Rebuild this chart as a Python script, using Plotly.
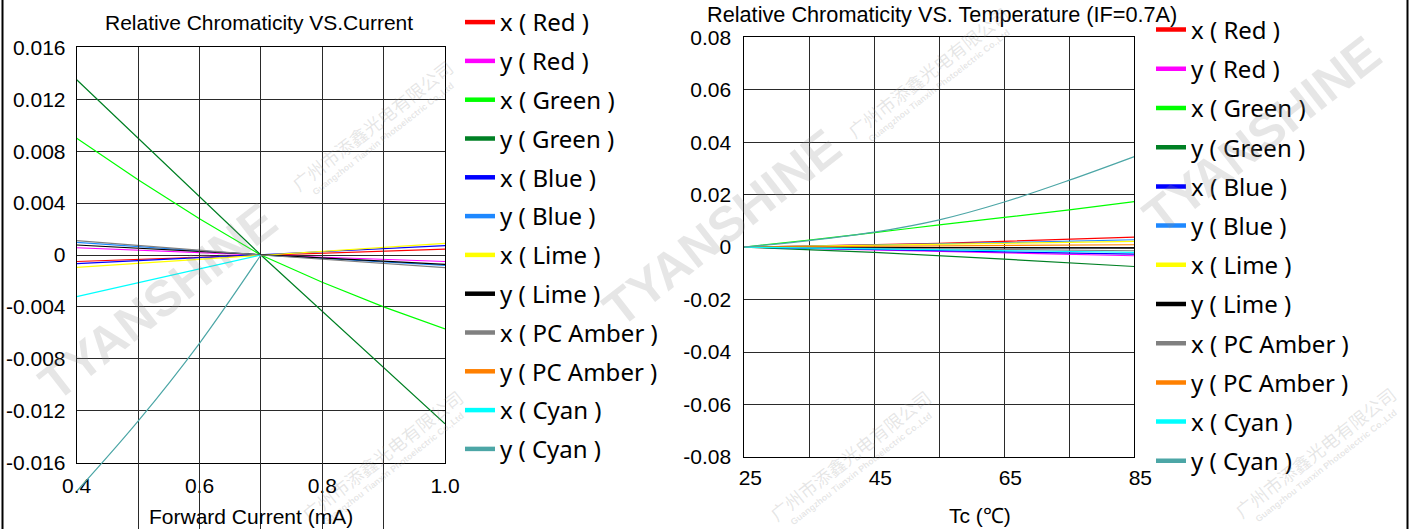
import plotly.graph_objects as go

W, H = 1415, 529

# ---------------- Relative chromaticity vs. forward current ----------------
cur_pts = [0.4, 0.7, 1.0]
cur_x_red = [-0.00050, 0.0, 0.00046]
cur_y_red = [0.00056, 0.0, -0.00050]
cur_green_pts = [0.4, 0.5, 0.6, 0.7, 0.8, 0.9, 1.0]
cur_x_green = [0.0090, 0.0058, 0.0028, 0.0, -0.0021, -0.0040, -0.0057]
cur_y_green = [0.0135, 0.0, -0.0130]
cur_x_blue = [-0.00067, 0.0, 0.00072]
cur_y_blue = [0.00098, 0.0, -0.00080]
cur_x_lime = [-0.00095, 0.0, 0.00090]
cur_y_lime = [0.00077, 0.0, -0.00072]
cur_x_amber = [0.00110, 0.0, -0.00098]
cur_amber_y_pts = [0.7]
cur_y_amber = [0.0]
cur_cyan_x_pts = [0.4, 0.7]
cur_x_cyan = [-0.0032, 0.0]
cur_cyan_y_pts = [0.4, 0.5, 0.6, 0.7]
cur_y_cyan = [-0.0182, -0.0128, -0.0068, 0.0]

cur_xticks = [0.4, 0.5, 0.6, 0.7, 0.8, 0.9, 1.0]
cur_xlabels = ["0.4", "", "0.6", "", "0.8", "", "1.0"]
cur_yticks = [-0.016, -0.012, -0.008, -0.004, 0.0, 0.004, 0.008, 0.012, 0.016]
cur_ylabels = ["-0.016", "-0.012", "-0.008", "-0.004", "0", "0.004", "0.008", "0.012", "0.016"]

# ---------------- Relative chromaticity vs. case temperature ----------------
tmp_pts = [25, 55, 85]
tmp_full = [25, 35, 45, 55, 65, 75, 85]
tmp_quarter = [25, 45, 65, 85]
tmp_x_red = [0.0, 0.0014, 0.0038]
tmp_y_red = [0.0, -0.0016, -0.0033]
tmp_x_green = [0.0, 0.0027, 0.0055, 0.0085, 0.0113, 0.0142, 0.0173]
tmp_y_green = [0.0, -0.0020, -0.0046, -0.0074]
tmp_x_blue = [0.0, -0.0013, -0.0027]
tmp_y_blue = [0.0, 0.0012, 0.0028]
tmp_x_lime = [0.0, 0.0010, 0.0022]
tmp_y_lime = [0.0, -0.0002, -0.0004]
tmp_x_amber = [0.0, -0.0007, -0.0014]
tmp_y_amber = [0.0, 0.0005, 0.0009]
tmp_x_cyan = [0.0, -0.0010, -0.0020]
tmp_y_cyan = [0.0, 0.0025, 0.0057, 0.0104, 0.0172, 0.0255, 0.0345]

tmp_xticks = [25, 35, 45, 55, 65, 75, 85]
tmp_xlabels = ["25", "", "45", "", "65", "", "85"]
tmp_yticks = [-0.08, -0.06, -0.04, -0.02, 0.0, 0.02, 0.04, 0.06, 0.08]
tmp_ylabels = ["-0.08", "-0.06", "-0.04", "-0.02", "0", "0.02", "0.04", "0.06", "0.08"]

series_names = ["x ( Red )", "y ( Red )", "x ( Green )", "y ( Green )",
                "x ( Blue )", "y ( Blue )", "x ( Lime )", "y ( Lime )",
                "x ( PC Amber )", "y ( PC Amber )", "x ( Cyan )", "y ( Cyan )"]
series_colors = ["#ff0000", "#ff00ff", "#00ff00", "#008024",
                 "#0000ff", "#1e88ff", "#ffff00", "#000000",
                 "#808080", "#ff8000", "#00ffff", "#4ca6a6"]

cur_series = [
    (cur_pts, cur_x_red), (cur_pts, cur_y_red),
    (cur_green_pts, cur_x_green), (cur_pts, cur_y_green),
    (cur_pts, cur_x_blue), (cur_pts, cur_y_blue),
    (cur_pts, cur_x_lime), (cur_pts, cur_y_lime),
    (cur_pts, cur_x_amber), (cur_amber_y_pts, cur_y_amber),
    (cur_cyan_x_pts, cur_x_cyan), (cur_cyan_y_pts, cur_y_cyan),
]
tmp_series = [
    (tmp_pts, tmp_x_red), (tmp_pts, tmp_y_red),
    (tmp_full, tmp_x_green), (tmp_quarter, tmp_y_green),
    (tmp_pts, tmp_x_blue), (tmp_pts, tmp_y_blue),
    (tmp_pts, tmp_x_lime), (tmp_pts, tmp_y_lime),
    (tmp_pts, tmp_x_amber), (tmp_pts, tmp_y_amber),
    (tmp_pts, tmp_x_cyan), (tmp_full, tmp_y_cyan),
]


def px_x(v):
    return v / W


def px_y(v):
    return 1 - v / H


# plot areas in pixels
L_box = (76.7, 445.0, 47.3, 462.7)     # left, right, top, bottom
R_box = (744.3, 1134.3, 37.2, 457.0)

L_xdom = [px_x(L_box[0]), px_x(L_box[1])]
L_ydom = [px_y(L_box[3]), px_y(L_box[2])]
R_xdom = [px_x(R_box[0]), px_x(R_box[1])]
R_ydom = [px_y(R_box[3]), px_y(R_box[2])]

# an auxiliary y axis on the left panel that extends below the frame,
# so the y(Cyan) curve can run past the bottom edge
ext_bottom = 0.0
ext_lo = -0.016 - (L_ydom[0] - ext_bottom) / (L_ydom[1] - L_ydom[0]) * 0.032

fig = go.Figure()

for i, ((xs, ys), name, col) in enumerate(zip(cur_series, series_names, series_colors)):
    fig.add_trace(go.Scatter(x=xs, y=ys, mode="lines", name=name,
                             line=dict(color=col, width=1.2,
                                       shape="spline" if i == 11 else "linear"),
                             xaxis="x", yaxis="y5" if i == 11 else "y",
                             showlegend=False, hoverinfo="skip"))
for i, ((xs, ys), name, col) in enumerate(zip(tmp_series, series_names, series_colors)):
    fig.add_trace(go.Scatter(x=xs, y=ys, mode="lines", name=name,
                             line=dict(color=col, width=1.2,
                                       shape="spline" if i in (2, 11) else "linear"),
                             xaxis="x2", yaxis="y2",
                             showlegend=False, hoverinfo="skip"))

# legend swatches (thick lines)
for i, (name, col) in enumerate(zip(series_names, series_colors)):
    fig.add_trace(go.Scatter(x=[None], y=[None], mode="lines", name=name,
                             line=dict(color=col, width=4.5),
                             xaxis="x", yaxis="y", legend="legend",
                             legendgroup=f"a{i}", showlegend=True))
for i, (name, col) in enumerate(zip(series_names, series_colors)):
    fig.add_trace(go.Scatter(x=[None], y=[None], mode="lines", name=name,
                             line=dict(color=col, width=4.5),
                             xaxis="x2", yaxis="y2", legend="legend2",
                             legendgroup=f"b{i}", showlegend=True))

tick_font = dict(family="Liberation Sans, Arial, sans-serif", size=21, color="#000")
grid_col = "#2a2a2a"

axis_common = dict(showgrid=True, gridcolor=grid_col, gridwidth=1,
                   zeroline=False, showline=True, linecolor="#000", linewidth=1,
                   mirror=True, ticks="", tickfont=tick_font, tickmode="array",
                   automargin=False)

fig.update_layout(
    xaxis=dict(domain=L_xdom, range=[0.4, 1.0], anchor="y",
               tickvals=cur_xticks, ticktext=cur_xlabels,
               ticklabelstandoff=4, **axis_common),
    yaxis=dict(domain=L_ydom, range=[-0.016, 0.016], anchor="x",
               tickvals=cur_yticks, ticktext=cur_ylabels,
               ticklabelstandoff=6, **axis_common),
    yaxis5=dict(domain=[ext_bottom, L_ydom[1]], range=[ext_lo, 0.016],
                anchor="x", visible=False, showgrid=False, zeroline=False),
    xaxis2=dict(domain=R_xdom, range=[25, 85], anchor="y2",
                tickvals=tmp_xticks, ticktext=tmp_xlabels,
                ticklabelstandoff=2, ticklabelshift=6, **axis_common),
    yaxis2=dict(domain=R_ydom, range=[-0.08, 0.08], anchor="x2",
                tickvals=tmp_yticks, ticktext=tmp_ylabels,
                ticklabelstandoff=8, **axis_common),
)

legend_common = dict(xanchor="left", yanchor="top", traceorder="grouped",
                     bgcolor="rgba(0,0,0,0)", borderwidth=0,
                     font=dict(family="Noto Sans, sans-serif", size=24, color="#000"),
                     itemwidth=30, itemclick=False, itemdoubleclick=False)
fig.update_layout(
    legend=dict(x=px_x(460), y=1.0, tracegroupgap=4.6, **legend_common),
    legend2=dict(x=px_x(1151), y=px_y(7.5), tracegroupgap=5.0, **legend_common),
)

title_font = dict(family="Liberation Sans, Arial, sans-serif", size=21, color="#000")
annots = [
    dict(text="Relative Chromaticity VS.Current", x=px_x(259), y=px_y(23), size=21),
    dict(text="Relative Chromaticity VS. Temperature (IF=0.7A)", x=px_x(942), y=px_y(14), size=21.7),
    dict(text="Forward Current (mA)", x=px_x(251), y=px_y(516), size=21),
    dict(text="Tc (\u2103)", x=px_x(980), y=px_y(515), size=21),
]
for a in annots:
    sz = a.pop("size")
    fig.add_annotation(xref="paper", yref="paper", showarrow=False,
                       xanchor="center", yanchor="middle",
                       font=dict(title_font, size=sz), **a)

# faint company watermark
wm_col = "rgba(140,140,140,0.22)"
for cx, cy in [(158, 302), (722, 228), (1262, 135)]:
    fig.add_annotation(xref="paper", yref="paper", x=px_x(cx), y=px_y(cy),
                       xanchor="center", yanchor="middle",
                       text="<b>TYANSHINE</b>", showarrow=False, textangle=-38,
                       font=dict(family="Liberation Sans, sans-serif", size=50, color=wm_col))
for cx, cy in [(372, 125), (928, 72), (382, 455), (850, 455), (1315, 452)]:
    fig.add_annotation(xref="paper", yref="paper", x=px_x(cx), y=px_y(cy),
                       xanchor="center", yanchor="middle",
                       text="\u5e7f\u5dde\u5e02\u6dfb\u946b\u5149\u7535\u6709\u9650\u516c\u53f8",
                       showarrow=False, textangle=-38,
                       font=dict(family="Noto Sans CJK SC, sans-serif", size=18, color=wm_col))
    fig.add_annotation(xref="paper", yref="paper", x=px_x(cx + 11), y=px_y(cy + 14),
                       xanchor="center", yanchor="middle",
                       text="<b>Guangzhou Tianxin Photoelectric Co.,Ltd</b>",
                       showarrow=False, textangle=-38,
                       font=dict(family="Liberation Sans, sans-serif", size=9, color=wm_col))

# outer frame edges
for xv in (2.5, 1407.5):
    fig.add_shape(type="line", xref="paper", yref="paper",
                  x0=px_x(xv), x1=px_x(xv), y0=0, y1=1,
                  line=dict(color="#000", width=2))

fig.update_layout(width=W, height=H,
                  margin=dict(l=0, r=0, t=0, b=0, pad=0, autoexpand=False),
                  paper_bgcolor="white", plot_bgcolor="rgba(0,0,0,0)",
                  showlegend=True)

fig.write_html("out.html")
